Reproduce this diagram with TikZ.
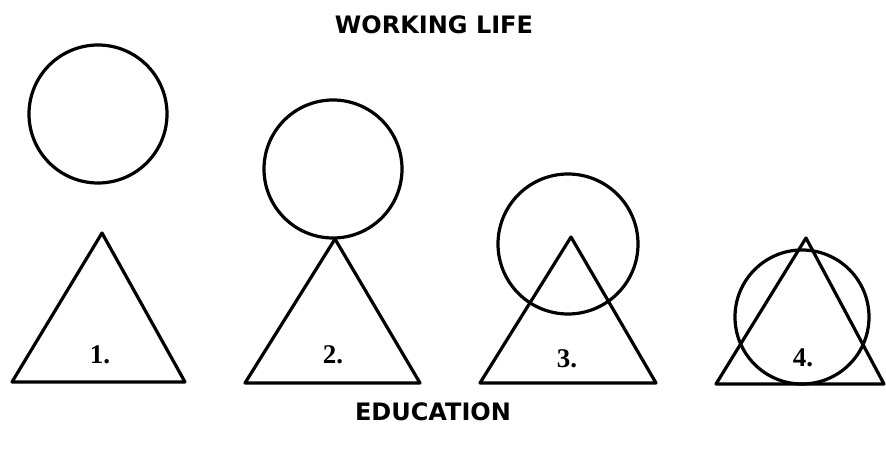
\documentclass[tikz,border=0pt]{standalone}
\usepackage{fontspec}
\setmainfont{DejaVu Sans}
\newfontfamily\numfont{Liberation Serif}
\usetikzlibrary{positioning}
\tikzset{
  shapeline/.style={black,line width=3.2pt,line join=round},
  headtext/.style={font=\fontsize{24}{26}\selectfont\bfseries},
  numtext/.style={font=\numfont\fontsize{27}{28}\selectfont\bfseries}
}
\begin{document}
\begin{tikzpicture}[x=1pt,y=1pt]
\useasboundingbox (0,0) rectangle (886,450);
\node[headtext] (work) at (434,425) {WORKING LIFE};
\node[headtext] (edu) at (433,38) {EDUCATION};
% 1. apart
\draw[shapeline] (98,336) circle[radius=69];
\draw[shapeline] (102,217)--(185,68)--(12,68)--cycle;
\node[numtext] (one) at (100,95) {1.};
% 2. touching
\draw[shapeline] (333,281) circle[radius=69];
\draw[shapeline] (335,211)--(420,67)--(245,67)--cycle;
\node[numtext] (two) at (333,95) {2.};
% 3. overlapping
\draw[shapeline] (568,206) circle[radius=70];
\draw[shapeline] (571,213)--(656,67)--(480,67)--cycle;
\node[numtext] (three) at (567,91) {3.};
% 4. inside
\draw[shapeline] (802,133) circle[radius=67];
\draw[shapeline] (806,212)--(884,66)--(716,66)--cycle;
\node[numtext] (four) at (803,92) {4.};
\end{tikzpicture}
\end{document}
